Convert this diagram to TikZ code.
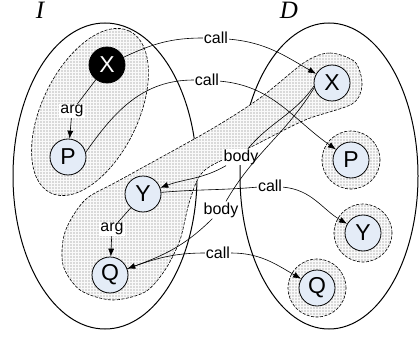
\documentclass[tikz,border=0pt]{standalone}
\usepackage{fontspec}
\setmainfont{Liberation Sans}
\newfontfamily\setsfont{Liberation Serif}
\usepackage{tikz}
\usetikzlibrary{shapes,arrows,arrows.meta,positioning,calc,patterns}
\definecolor{varblue}{RGB}{228,236,247}
\tikzstyle{var} = [circle, draw, fill=varblue, line width=0.8pt, minimum size=36pt, inner sep=0pt, font=\fontsize{23}{23}\selectfont]
\tikzstyle{root} = [var, fill=black, text=white]
\tikzstyle{lbl} = [rectangle, fill=white, inner sep=1pt, font=\fontsize{16}{16}\selectfont]
\tikzstyle{setname} = [font=\setsfont\itshape\fontsize{25}{25}\selectfont]
\tikzstyle{set} = [draw, line width=1pt]
\tikzstyle{region} = [draw, line width=0.6pt, dash pattern=on 3pt off 1.5pt, preaction={fill=gray!30}, pattern=grid, pattern color=gray!5]
\tikzstyle{wire} = [draw, line width=0.6pt]
\tikzstyle{line} = [wire, -{Latex[length=8pt,width=6pt]}]

\begin{document}
\begin{tikzpicture}[x=1pt, y=1pt]
	\useasboundingbox (0,0) rectangle (420,-342);
	%Sets
	\node [setname] (IName) at (40,-10) {I};
	\node [setname] (DName) at (289,-10) {D};
	\path [set] (105,-176) ellipse (92 and 153);
	\path [set] (329,-176) ellipse (89 and 153);

	%Regions
	\path [region, rotate around={64:(90,-112)}] (90,-112) ellipse (90 and 48);
	\path [region] plot [smooth cycle] coordinates {(305,-62) (330,-53) (355,-62) (362,-85) (352,-104) (305,-120) (255,-145) (205,-170) (190,-200) (180,-240) (165,-270) (145,-292) (112,-300) (80,-290) (63,-265) (65,-232) (85,-200) (120,-180) (210,-130) (260,-98)};
	\path [region] (351,-160) circle (29);
	\path [region] (363,-233) circle (29);
	\path [region] (317,-288) circle (29);

	%Place nodes
	\node [root] (XI) at (107,-65) {X};
	\node [var] (PI) at (68,-157) {P};
	\node [var] (YI) at (143,-194) {Y};
	\node [var] (QI) at (110,-275) {Q};
	\node [var] (XD) at (332,-83) {X};
	\node [var] (PD) at (351,-160) {P};
	\node [var] (YD) at (363,-233) {Y};
	\node [var] (QD) at (317,-288) {Q};

	%Labels
	\node [lbl] (Call1) at (216,-38) {call};
	\node [lbl] (Call2) at (207,-80) {call};
	\node [lbl] (Call3) at (270,-186) {call};
	\node [lbl] (Call4) at (218,-253) {call};
	\node [lbl] (Arg1) at (72,-111) {arg};
	\node [lbl] (Arg2) at (112,-229) {arg};
	\node [lbl] (Body1) at (241,-157) {body};
	\node [lbl] (Body2) at (221,-210) {body};

	\path [wire] (XI) to[out=25,in=180] (Call1);
	\path [line] (Call1) to[out=-5,in=150] (XD);
	\path [wire] (PI.15) to[out=55,in=180] (Call2);
	\path [line] (Call2) to[out=-5,in=145] (PD);
	\path [wire] (YI) to[out=5,in=185] (Call3);
	\path [line] (Call3) to[out=-5,in=150] (YD);
	\path [wire] (QI) to[out=20,in=180] (Call4);
	\path [line] (Call4) to[out=0,in=150] (QD);

	\path [wire] (XI) -- (Arg1);
	\path [line] (Arg1) -- (PI);
	\path [wire] (YI) -- (Arg2);
	\path [line] (Arg2) -- (QI);

	\path [wire] (XD.190) to[out=235,in=50] (Body1);
	\path [line] (Body1) to[out=210,in=20] (YI);
	\path [wire] (XD.195) to[out=238,in=60] (Body2);
	\path [line] (Body2) to[out=225,in=20] (QI);
\end{tikzpicture}
\end{document}
